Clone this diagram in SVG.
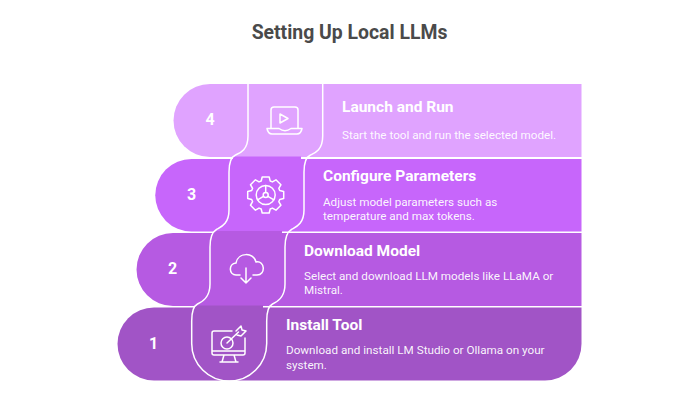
<svg xmlns="http://www.w3.org/2000/svg" width="700" height="400" viewBox="0 0 700 400">
<style>
text{font-family:Roboto,"Liberation Sans",sans-serif;fill:#fff}
.t{font-size:19.4px;font-weight:700;fill:#4a4a4a;text-anchor:middle}
.h{font-size:15.5px;font-weight:700}
.d{font-size:11.7px;fill-opacity:.95}
.n{font-size:16px;font-weight:700;text-anchor:middle}
.l,.i{fill:none;stroke:#fff;stroke-width:1.500;stroke-linecap:round;stroke-linejoin:round}
</style>
<rect width="700" height="400" fill="#fff"/>
<text class="t" x="349.500" y="39">Setting Up Local LLMs</text>
<g id="step-4">
<path d="M210,84H581.500V157H210A36.500,36.500 0 0 1 210,84Z" fill="#e0a3ff"/>
<text class="n" x="210" y="125">4</text>
<path class="i" d="M271,128V110Q271,107 274,107H295Q298,107 298,110V128M267,128.500H279Q285,133 291,128.500H302Q301,134 297,134H272Q268,134 267,128.500ZM280,114V123L288,118.500Z"/>
<text class="h" x="342" y="111.500">Launch and Run</text>
<text class="d" x="342" y="139">Start the tool and run the selected model.</text>
</g>
<g id="step-3">
<path d="M191.500,159H581.500V231.500H191.500A36.250,36.250 0 0 1 191.500,159Z" fill="#c766fb"/>
<path d="M233,156.500H301V159.500H233Z" fill="#c766fb"/>
<text class="n" x="191.500" y="200">3</text>
<g class="i" transform="translate(265.700,195)">
<circle r="9.500"/><circle r="2.500"/>
<path d="M0,-2.500V-9.500M-2.200,1.300L-8.200,4.800M2.200,1.300L8.200,4.800"/>
<path d="M-3.500,-18H3.500L4.500,-14L6.700,-13.100L10.250,-15.200L15.200,-10.250L13.100,-6.700L14,-4.500L18,-3.500V3.500L14,4.500L13.100,6.700L15.200,10.250L10.250,15.200L6.700,13.100L4.500,14L3.500,18H-3.500L-4.500,14L-6.700,13.100L-10.250,15.200L-15.200,10.250L-13.100,6.700L-14,4.500L-18,3.500V-3.500L-14,-4.500L-13.100,-6.700L-15.200,-10.250L-10.250,-15.200L-6.700,-13.100L-4.500,-14Z"/>
</g>
<text class="h" x="323" y="181">Configure Parameters</text>
<text class="d" x="323" y="206">Adjust model parameters such as</text>
<text class="d" x="323" y="220">temperature and max tokens.</text>
</g>
<g id="step-2">
<path d="M173,233H581.500V306H173A36.500,36.500 0 0 1 173,233Z" fill="#b65ae2"/>
<path d="M214,231H282V233.500H214Z" fill="#b65ae2"/>
<text class="n" x="172.500" y="274">2</text>
<path class="i" d="M240,275H236C229,275 228,264 236,263C238,252 254,252 256,262C265,260 266,275 257,275H253M246,268V283M241,278L246,283L251,278"/>
<text class="h" x="304" y="255.500">Download Model</text>
<text class="d" x="304" y="280">Select and download LLM models like LLaMA or</text>
<text class="d" x="304" y="294">Mistral.</text>
</g>
<g id="step-1">
<path d="M154,307.500H581.500V344A36.500,36.500 0 0 1 545,380.500H154A36.500,36.500 0 0 1 154,307.500Z" fill="#a154c6"/>
<path d="M195,305.500H263V308H195Z" fill="#a154c6"/>
<text class="n" x="153.500" y="349">1</text>
<path class="i" d="M232,331H214Q212,331 212,333V353Q212,355 214,355H243Q245,355 245,353V338M212,351H245M224,355L222,362M234,355L236,362M220,362H238M227,343L238.500,332M236,331L241,326L242,330L246,331L241,336L237,335"/>
<circle class="i" cx="227" cy="343" r="6"/>
<text class="h" x="286" y="330">Install Tool</text>
<text class="d" x="286" y="354">Download and install LM Studio or Ollama on your</text>
<text class="d" x="286" y="369">system.</text>
</g>
<g id="connectors">
<path class="l" d="M248,84V136C248,150 240,153 235.500,155C231,157 229,162 229,172V210C229,224 221,227 216.500,229.500C212,232 210,237 210,247V284C210,298 202,302 197.500,304C193.500,306 191.700,311 191.700,321V343.500A37,37 0 0 0 266.700,343.500V321C266.700,311 268.500,306 272.500,304C277,302 285,298 285,284V247C285,237 287,232 291.500,229.500C296,227 304,224 304,210V172C304,162 306,157 310.500,155C315,153 322.700,150 322.700,136V84"/>
</g>
</svg>
